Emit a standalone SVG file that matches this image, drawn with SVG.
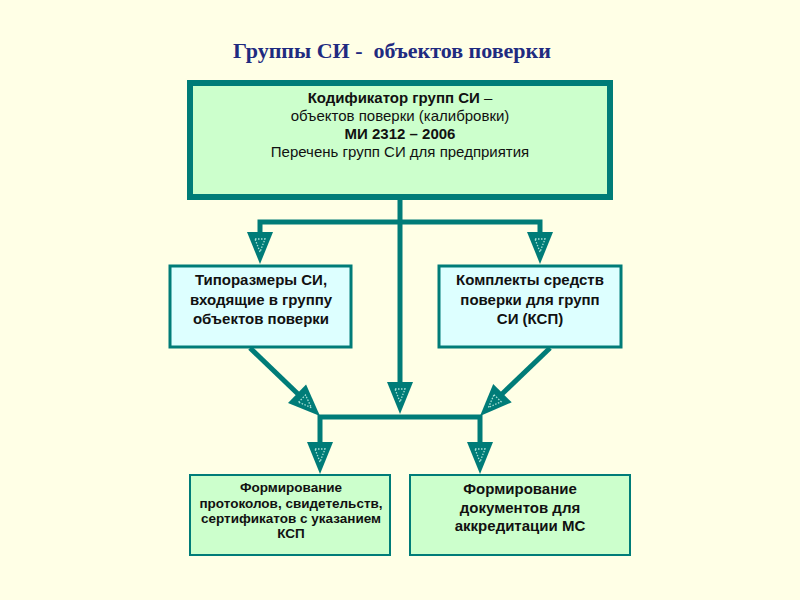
<svg xmlns="http://www.w3.org/2000/svg" xmlns:xlink="http://www.w3.org/1999/xlink" width="800" height="600" viewBox="0 0 800 600">
<style>
.title{font-family:"Liberation Serif","Times New Roman",serif;font-weight:bold;font-size:22px;fill:#1f2b80}
.t{font-family:"Liberation Sans",Arial,sans-serif;font-size:15px;fill:#111;text-anchor:middle}
.b{font-weight:bold}
.s{font-size:13.5px}
.conn{fill:none;stroke:#007c78;stroke-width:5;stroke-linejoin:miter}
.box1{fill:#ccffcc;stroke:#007c78;stroke-width:6}
.box2{fill:#ddffff;stroke:#007c78;stroke-width:3}
.box3{fill:#ccffcc;stroke:#007c78;stroke-width:2}
</style>
<defs>
<g id="ah">
<polygon points="-13,-32 13,-32 0,0" fill="#007c78"/>
<polygon points="-5,-25 5,-25 0,-12" fill="none" stroke="#a8e0d6" stroke-width="1.3" stroke-dasharray="1.5 1.5"/>
</g>
</defs>
<rect width="800" height="600" fill="#ffffe6"/>
<text class="title" x="392" y="58" text-anchor="middle" xml:space="preserve">Группы СИ -  объектов поверки</text>

<g id="connectors">
<path class="conn" d="M260,234 V222 H540 V234"/>
<path class="conn" d="M400,200 V383"/>
<path class="conn" d="M320,442 V417 H480 V442"/>
<path class="conn" d="M250,348 L298,394"/>
<path class="conn" d="M550,348 L502,394"/>
<use xlink:href="#ah" transform="translate(260,264)"/>
<use xlink:href="#ah" transform="translate(540,264)"/>
<use xlink:href="#ah" transform="translate(400,414)"/>
<use xlink:href="#ah" transform="translate(320,416) rotate(-45.9)"/>
<use xlink:href="#ah" transform="translate(480,416) rotate(44.6)"/>
<use xlink:href="#ah" transform="translate(320,474)"/>
<use xlink:href="#ah" transform="translate(480,474)"/>
</g>

<g id="node-top">
<rect class="box1" x="190" y="83" width="420" height="114"/>
<text class="t" x="400" y="103"><tspan class="b">Кодификатор групп СИ</tspan> –</text>
<text class="t" x="400" y="121">объектов поверки (калибровки)</text>
<text class="t b" x="400" y="139">МИ 2312 – 2006</text>
<text class="t" x="400" y="157">Перечень групп СИ для предприятия</text>
</g>

<g id="node-left">
<rect class="box2" x="170" y="266" width="181" height="81"/>
<text class="t b" x="261" y="285">Типоразмеры СИ,</text>
<text class="t b" x="261" y="305">входящие в группу</text>
<text class="t b" x="261" y="324">объектов поверки</text>
</g>

<g id="node-right">
<rect class="box2" x="439" y="266" width="182" height="81"/>
<text class="t b" x="530" y="285">Комплекты средств</text>
<text class="t b" x="530" y="305">поверки для групп</text>
<text class="t b" x="530" y="324">СИ (КСП)</text>
</g>

<g id="node-bottom-left">
<rect class="box3" x="190" y="475" width="200" height="80"/>
<text class="t b s" x="291" y="492">Формирование</text>
<text class="t b s" x="291" y="508">протоколов, свидетельств,</text>
<text class="t b s" x="291" y="523">сертификатов с указанием</text>
<text class="t b s" x="291" y="538">КСП</text>
</g>

<g id="node-bottom-right">
<rect class="box3" x="410" y="475" width="220" height="80"/>
<text class="t b" x="520" y="494">Формирование</text>
<text class="t b" x="520" y="513">документов для</text>
<text class="t b" x="520" y="531">аккредитации МС</text>
</g>
</svg>
